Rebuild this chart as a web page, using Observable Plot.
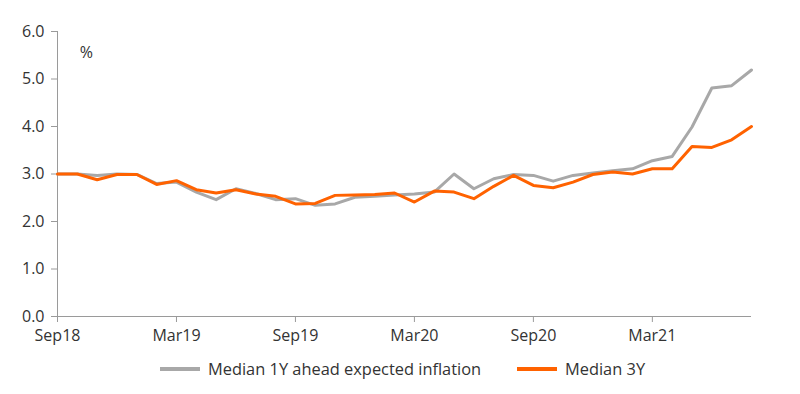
<!DOCTYPE html>
<html>
<head>
<meta charset="utf-8">
<script src="https://cdn.jsdelivr.net/npm/d3@7"></script>
<script src="https://cdn.jsdelivr.net/npm/@observablehq/plot@0.6"></script>
<style>
  html, body { margin: 0; padding: 0; background: #fff; }
  body { width: 800px; height: 394px; overflow: hidden; font-family: "Open Sans", sans-serif; }
  #chart svg { display: block; }
  .legend { position: relative; height: 44px; font-size: 16.4px; color: #333; }
  .legend .item { position: absolute; top: 7px; display: flex; align-items: center; }
  .legend .sw { display: inline-block; width: 40px; height: 4px; margin-right: 8px; }
</style>
</head>
<body>
<div id="chart"></div>
<div class="legend">
  <div class="item" style="left:160px"><span class="sw" style="background:#a8a8a8"></span><span>Median 1Y ahead expected inflation</span></div>
  <div class="item" style="left:517px"><span class="sw" style="background:#ff6200"></span><span>Median 3Y</span></div>
</div>
<script>
const months = ["Sep18","Oct18","Nov18","Dec18","Jan19","Feb19","Mar19","Apr19","May19","Jun19","Jul19","Aug19",
  "Sep19","Oct19","Nov19","Dec19","Jan20","Feb20","Mar20","Apr20","May20","Jun20","Jul20","Aug20",
  "Sep20","Oct20","Nov20","Dec20","Jan21","Feb21","Mar21","Apr21","May21","Jun21","Jul21","Aug21"];
const median1Y = [3.00,3.00,2.97,3.00,2.99,2.80,2.83,2.62,2.46,2.69,2.59,2.46,
  2.48,2.34,2.37,2.51,2.53,2.56,2.58,2.62,3.00,2.69,2.90,2.99,
  2.97,2.85,2.97,3.02,3.07,3.11,3.28,3.37,3.99,4.81,4.86,5.19];
const median3Y = [3.00,3.00,2.88,2.99,2.99,2.78,2.86,2.67,2.60,2.67,2.58,2.53,
  2.37,2.38,2.55,2.56,2.57,2.60,2.41,2.64,2.62,2.48,2.74,2.97,
  2.76,2.71,2.83,2.99,3.04,3.00,3.11,3.11,3.58,3.56,3.72,4.00];
const xTicks = ["Sep18","Mar19","Sep19","Mar20","Sep20","Mar21"];
const yTicks = [0,1,2,3,4,5,6];
const unitLabel = "%";

const d1 = months.map((m,i) => ({m, v: median1Y[i]}));
const d3y = months.map((m,i) => ({m, v: median3Y[i]}));

const chart = Plot.plot({
  width: 800,
  height: 350,
  marginLeft: 57,
  marginRight: 49,
  marginTop: 31,
  marginBottom: 34,
  style: {fontFamily: "Open Sans, sans-serif", fontSize: "16px", color: "#333", background: "#fff"},
  x: {type: "point", domain: months, padding: 0, round: false, label: null},
  y: {domain: [0, 6], label: null},
  marks: [
    Plot.ruleY([0], {stroke: "#9a9a9a", strokeWidth: 1}),
    Plot.ruleX([months[0]], {y1: 0, y2: 6, stroke: "#9a9a9a", strokeWidth: 1}),
    Plot.axisY({ticks: yTicks, tickFormat: d => d.toFixed(1), tickSize: 6, tickPadding: 7, stroke: "#9a9a9a", fill: "#333", fontSize: 16, label: null}),
    Plot.axisX({ticks: xTicks, tickSize: 6, tickPadding: 7, stroke: "#9a9a9a", fill: "#333", fontSize: 16, label: null}),
    Plot.line(d1, {x: "m", y: "v", stroke: "#a8a8a8", strokeWidth: 3, strokeLinejoin: "round"}),
    Plot.line(d3y, {x: "m", y: "v", stroke: "#ff6200", strokeWidth: 3, strokeLinejoin: "round"}),
    Plot.text([unitLabel], {x: () => months[1], y: () => 5.56, text: d => d, dx: 9, fontSize: 16, fill: "#333"})
  ]
});
document.getElementById("chart").appendChild(chart);
</script>
</body>
</html>
